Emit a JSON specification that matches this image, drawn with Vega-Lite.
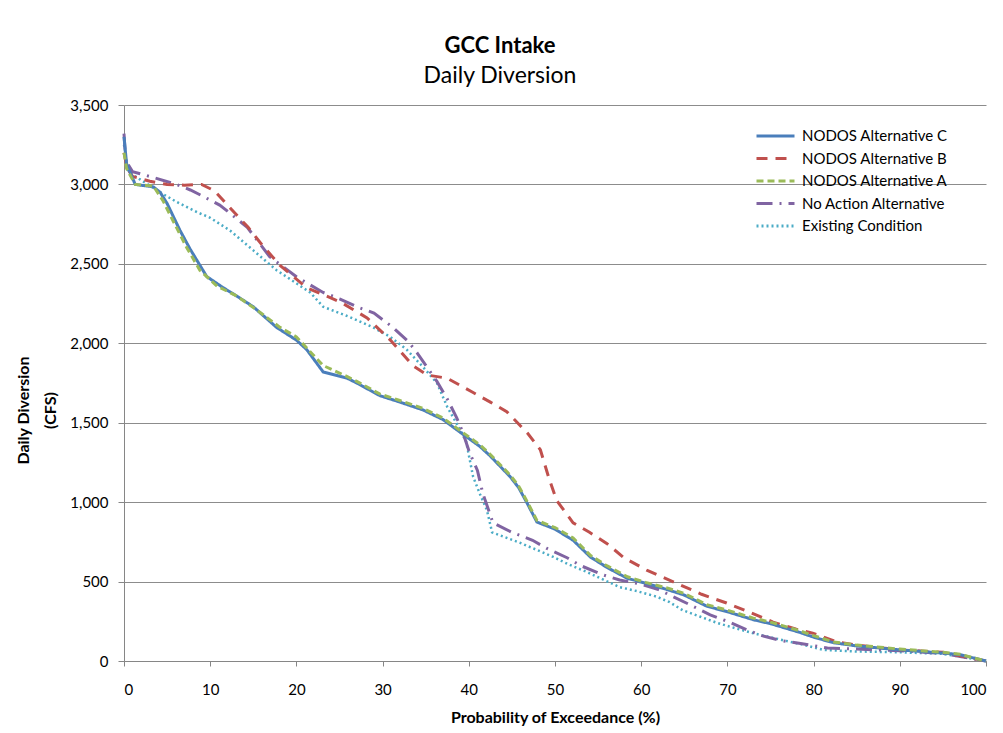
{
  "$schema": "https://vega.github.io/schema/vega-lite/v6.json",
  "autosize": "none",
  "width": 862,
  "height": 556,
  "padding": {"left": 124, "top": 105, "right": 17, "bottom": 72},
  "background": "white",
  "config": {
    "font": "Lato",
    "view": {"stroke": null}
  },
  "title": {
    "text": "GCC Intake",
    "subtitle": "Daily Diversion",
    "anchor": "middle",
    "dx": -55,
    "fontSize": 22,
    "fontWeight": "bold",
    "color": "#000000",
    "subtitleFontSize": 23,
    "subtitleColor": "#000000",
    "subtitlePadding": 7,
    "offset": 9
  },
  "datasets": {
    "C": [[0,3300],[0.3,3130],[1.3,3000],[3.4,2985],[4.2,2950],[5,2880],[6.5,2710],[7.7,2590],[9.6,2420],[11.5,2350],[13,2300],[15,2230],[17.7,2100],[20,2020],[21.2,1960],[23.1,1820],[25.9,1780],[27,1750],[29.7,1670],[32,1630],[34.7,1580],[37,1520],[39,1440],[41.3,1350],[42.5,1290],[44.8,1160],[45.8,1090],[46.8,990],[47.9,875],[50,830],[52.1,760],[54.1,655],[56,590],[58.4,520],[60.5,490],[63,450],[65,415],[67.6,345],[70,310],[73,260],[75,235],[78.4,180],[80,150],[82.3,115],[85,95],[90,70],[95,50],[97,40],[100,0]],
    "B": [[0,3200],[0.4,3100],[1,3050],[3,3020],[5,3000],[7,2995],[9,3000],[10.5,2960],[12,2870],[14.4,2730],[16,2620],[18.1,2490],[21.2,2350],[25.1,2260],[28.2,2160],[30.9,2020],[33.5,1860],[35.2,1800],[37.5,1780],[40.5,1690],[42.5,1630],[44.4,1570],[46.8,1435],[48.3,1330],[49.3,1150],[50.2,1010],[52.1,870],[54,810],[56,740],[58,650],[60.7,570],[64.5,480],[67,420],[69.9,365],[72,320],[75.3,245],[78,200],[79.9,175],[82.7,120],[85,100],[90,70],[95,55],[100,0]],
    "A": [[0,3200],[0.3,3100],[1.3,3000],[3.4,2990],[4.5,2900],[5.7,2770],[7.3,2600],[8.8,2460],[10.8,2360],[13,2300],[15.4,2210],[18.1,2100],[20,2040],[21.9,1930],[23.1,1860],[25.9,1790],[27,1760],[29.7,1680],[32,1640],[34.7,1590],[37,1530],[39,1450],[41.3,1360],[42.5,1300],[44.8,1170],[45.8,1100],[46.8,1000],[47.9,885],[50,840],[52.1,775],[54.1,665],[56,600],[58.4,530],[60.5,495],[63,460],[65,425],[67.6,355],[70,320],[73,270],[75,245],[78.4,190],[80,160],[82.3,120],[85,100],[90,75],[95,55],[97,42],[100,0]],
    "N": [[0,3320],[0.2,3150],[1,3080],[3,3050],[6.1,3000],[7.7,2965],[9,2930],[11.1,2870],[12.5,2810],[14.3,2730],[16.9,2545],[20.1,2415],[23.1,2320],[25,2280],[27.4,2222],[29,2190],[31.2,2100],[33,2010],[34,1940],[36.3,1760],[37.5,1650],[38.6,1530],[39.3,1440],[40.1,1310],[41,1200],[41.6,1060],[42.8,870],[45,810],[47.4,760],[49,710],[51.4,650],[53,600],[55.4,545],[57.5,510],[59.9,485],[62,450],[63.7,405],[66,345],[68,290],[70,250],[72.3,195],[74,160],[76.1,130],[78.5,110],[81.6,82],[85,75],[90,65],[95,48],[100,0]],
    "E": [[0,3250],[0.5,3080],[1.9,3030],[4.2,2950],[6.1,2890],[8.5,2825],[10,2790],[12.3,2710],[15,2585],[17.7,2460],[21.6,2320],[23.1,2230],[26.2,2165],[28.9,2100],[30.9,2040],[32.8,1960],[34.7,1850],[36.3,1750],[37.5,1600],[39,1455],[39.7,1380],[40.5,1160],[41.3,1050],[42.1,950],[42.7,810],[45.9,745],[48.3,690],[49.8,655],[51.5,610],[53.7,560],[55.5,515],[57.5,465],[59.5,440],[61.8,405],[63.3,370],[64.8,320],[66.8,280],[68.8,240],[71,205],[73,175],[76.5,130],[79,100],[81.1,70],[85,60],[90,55],[95,45],[100,0]]
  },
  "layer": [
    {"data": {"name": "E"}, "transform": [{"calculate": "'Existing Condition'", "as": "series"}, {"calculate": "datum[0]", "as": "p"}, {"calculate": "datum[1]", "as": "v"}], "mark": {"type": "line", "strokeWidth": 2.5}, "encoding": {"x": {"field": "p", "type": "quantitative"}, "y": {"field": "v", "type": "quantitative"}, "color": {"field": "series", "type": "nominal"}, "strokeDash": {"field": "series", "type": "nominal"}}},
    {"data": {"name": "N"}, "transform": [{"calculate": "'No Action  Alternative'", "as": "series"}, {"calculate": "datum[0]", "as": "p"}, {"calculate": "datum[1]", "as": "v"}], "mark": {"type": "line", "strokeWidth": 3}, "encoding": {"x": {"field": "p", "type": "quantitative"}, "y": {"field": "v", "type": "quantitative"}, "color": {"field": "series", "type": "nominal"}, "strokeDash": {"field": "series", "type": "nominal"}}},
    {"data": {"name": "B"}, "transform": [{"calculate": "'NODOS Alternative B'", "as": "series"}, {"calculate": "datum[0]", "as": "p"}, {"calculate": "datum[1]", "as": "v"}], "mark": {"type": "line", "strokeWidth": 3}, "encoding": {"x": {"field": "p", "type": "quantitative"}, "y": {"field": "v", "type": "quantitative"}, "color": {"field": "series", "type": "nominal"}, "strokeDash": {"field": "series", "type": "nominal"}}},
    {"data": {"name": "C"}, "transform": [{"calculate": "'NODOS Alternative C'", "as": "series"}, {"calculate": "datum[0]", "as": "p"}, {"calculate": "datum[1]", "as": "v"}], "mark": {"type": "line", "strokeWidth": 3}, "encoding": {"x": {"field": "p", "type": "quantitative"}, "y": {"field": "v", "type": "quantitative"}, "color": {"field": "series", "type": "nominal"}, "strokeDash": {"field": "series", "type": "nominal"}}},
    {"data": {"name": "A"}, "transform": [{"calculate": "'NODOS Alternative A'", "as": "series"}, {"calculate": "datum[0]", "as": "p"}, {"calculate": "datum[1]", "as": "v"}], "mark": {"type": "line", "strokeWidth": 3}, "encoding": {
      "x": {"field": "p", "type": "quantitative", "scale": {"domain": [0, 100], "nice": false}, "axis": {"values": [0,10,20,30,40,50,60,70,80,90,100], "title": "Probability of Exceedance (%)", "grid": false, "domainColor": "#868686", "tickColor": "#868686", "tickSize": 5, "labelFontSize": 15, "labelColor": "#000000", "labelPadding": 16, "titleFontSize": 16, "titleFontWeight": "bold", "titleColor": "#000000", "titlePadding": 12}},
      "y": {"field": "v", "type": "quantitative", "scale": {"domain": [0, 3500], "nice": false}, "axis": {"values": [0,500,1000,1500,2000,2500,3000,3500], "format": ",.0f", "title": ["Daily Diversion", "(CFS)"], "grid": true, "gridColor": "#8c8c8c", "gridWidth": 1, "domainColor": "#868686", "tickColor": "#868686", "tickSize": 6, "labelFontSize": 15, "labelColor": "#000000", "labelPadding": 10, "titleFontSize": 16, "titleFontWeight": "bold", "titleColor": "#000000", "titleLineHeight": 27, "titleX": -93, "titleY": 305}},
      "color": {"field": "series", "type": "nominal", "scale": {"domain": ["NODOS Alternative C", "NODOS Alternative B", "NODOS Alternative A", "No Action  Alternative", "Existing Condition"], "range": ["#4a7ebb", "#c0504d", "#9bbb59", "#8064a2", "#4bacc6"]}, "legend": {"title": null, "orient": "none", "legendX": 631, "legendY": 20, "symbolType": "stroke", "symbolSize": 1444, "symbolStrokeWidth": 3, "labelFontSize": 15, "labelColor": "#000000", "labelOffset": 6, "clipHeight": 22, "rowPadding": 0.5}},
      "strokeDash": {"field": "series", "type": "nominal", "scale": {"domain": ["NODOS Alternative C", "NODOS Alternative B", "NODOS Alternative A", "No Action  Alternative", "Existing Condition"], "range": [[1, 0], [11, 8], [7, 4], [16, 7, 2, 7], [2, 3]]}, "legend": {"title": null, "orient": "none", "legendX": 631, "legendY": 20, "symbolType": "stroke", "symbolSize": 1444, "symbolStrokeWidth": 3, "labelFontSize": 15, "labelColor": "#000000", "labelOffset": 6, "clipHeight": 22, "rowPadding": 0.5}}
    }}
  ]
}
